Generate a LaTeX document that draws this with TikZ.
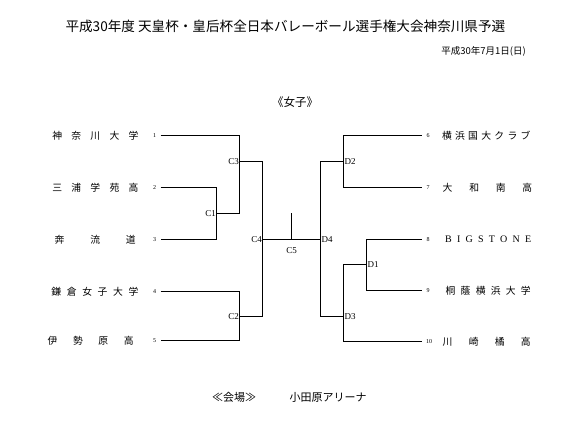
\documentclass[tikz,border=0pt]{standalone}
\usepackage{fontspec}
\setmainfont{Liberation Serif}
\newfontfamily\jp{Noto Sans CJK JP}
\tikzset{
  br/.style={line width=1.2pt, line join=miter, black},
  team/.style={inner sep=0pt, font=\jp\fontsize{9.8}{10}\selectfont},
  num/.style={inner sep=0pt, font=\fontsize{6}{7}\selectfont},
  lab/.style={inner sep=0pt, font=\fontsize{9}{10}\selectfont},
  hdr/.style={inner sep=0pt},
}
\newcommand{\spread}[2]{\makebox[#1pt][s]{#2}}
\begin{document}
\begin{tikzpicture}[x=1pt,y=-1pt]
\useasboundingbox (0,0) rectangle (585,423);
% headers
\node[hdr, font=\jp\fontsize{13.6}{15}\selectfont] (title) at (285.4,26) {平成30年度 天皇杯・皇后杯全日本バレーボール選手権大会神奈川県予選};
\node[hdr, font=\jp\fontsize{9.5}{11}\selectfont] (date) at (483.5,51.7) {平成30年7月1日(日)};
\node[hdr, font=\jp\fontsize{11.5}{13}\selectfont] (cat) at (295,101.7) {《女子》};
\node[hdr, font=\jp\fontsize{11}{13}\selectfont] (venuelab) at (234,397) {≪会場≫};
\node[hdr, font=\jp\fontsize{11}{13}\selectfont, anchor=west] (venue) at (289.5,397) {小田原アリーナ};
% left teams
\node[team, anchor=west] (t1) at (52.2,135.5) {\spread{86}{神\hfill 奈\hfill 川\hfill 大\hfill 学}};
\node[team, anchor=west] (t2) at (52.2,187.5) {\spread{86}{三\hfill 浦\hfill 学\hfill 苑\hfill 高}};
\node[team, anchor=west] (t3) at (54.5,239.5) {\spread{81}{奔\hfill 流\hfill 道}};
\node[team, anchor=west] (t4) at (51.2,291.5) {\spread{87}{鎌\hfill 倉\hfill 女\hfill 子\hfill 大\hfill 学}};
\node[team, anchor=west] (t5) at (47.5,340.5) {\spread{86}{伊\hfill 勢\hfill 原\hfill 高}};
% right teams
\node[team, anchor=west] (t6) at (441.8,135.5) {\spread{88.5}{横\hfill 浜\hfill 国\hfill 大\hfill ク\hfill ラ\hfill ブ}};
\node[team, anchor=west] (t7) at (442.5,187.5) {\spread{89.5}{大\hfill 和\hfill 南\hfill 高}};
\node[team, anchor=west, font=\fontsize{10}{11}\selectfont] (t8) at (445,239.5) {\spread{86}{B\hfill I\hfill G\hfill S\hfill T\hfill O\hfill N\hfill E}};
\node[team, anchor=west] (t9) at (445.5,290.5) {\spread{85}{桐\hfill 蔭\hfill 横\hfill 浜\hfill 大\hfill 学}};
\node[team, anchor=west] (t10) at (442.5,341.5) {\spread{88}{川\hfill 崎\hfill 橘\hfill 高}};
% numbers
\node[num] (n1) at (154.5,135.5) {1};
\node[num] (n2) at (154.5,187.5) {2};
\node[num] (n3) at (154.5,239.5) {3};
\node[num] (n4) at (154.5,291.5) {4};
\node[num] (n5) at (154.5,340.5) {5};
\node[num] (n6) at (428,135.5) {6};
\node[num] (n7) at (428,187.5) {7};
\node[num] (n8) at (428,239.5) {8};
\node[num] (n9) at (428,290.5) {9};
\node[num] (n10) at (429,341.5) {10};
% bracket coordinates
\coordinate (s1) at (160.5,135.5);
\coordinate (s2) at (160.5,187.5);
\coordinate (s3) at (160.5,239.5);
\coordinate (s4) at (160.5,291.5);
\coordinate (s5) at (160.5,340.5);
\coordinate (e6) at (421.5,135.5);
\coordinate (e7) at (421.5,187.5);
\coordinate (e8) at (421.5,239.5);
\coordinate (e9) at (421.5,290.5);
\coordinate (e10) at (421.5,341.5);
\coordinate (c1) at (216.5,213.5);
\coordinate (c3) at (239.5,161.5);
\coordinate (c2) at (239.5,316.5);
\coordinate (c4) at (262.5,239.5);
\coordinate (c5) at (291.5,239.5);
\coordinate (c5t) at (291.5,213);
\coordinate (d4) at (320.5,239.5);
\coordinate (d2) at (343.5,161.5);
\coordinate (d1) at (366.5,264.5);
\coordinate (d3) at (343.5,316.5);
% bracket lines
\draw[br] (s2) -| (c1) |- (s3);
\draw[br] (s1) -| (c3) |- (c1);
\draw[br] (s4) -| (c2) |- (s5);
\draw[br] (c3) -| (c4) |- (c2);
\draw[br] (c4) -- (d4);
\draw[br] (c5) -- (c5t);
\draw[br] (e6) -| (d2) |- (e7);
\draw[br] (e8) -| (d1) |- (e9);
\draw[br] (d1) -| (d3) |- (e10);
\draw[br] (d2) -| (d4) |- (d3);
% match labels
\node[lab, anchor=east] (lc1) at (216,213.5) {C1};
\node[lab, anchor=east] (lc3) at (239,161.5) {C3};
\node[lab, anchor=east] (lc4) at (262,239.5) {C4};
\node[lab, anchor=east] (lc2) at (239,316.5) {C2};
\node[lab] (lc5) at (291.5,251) {C5};
\node[lab, anchor=west] (ld2) at (344.3,161.5) {D2};
\node[lab, anchor=west] (ld4) at (321.3,239.5) {D4};
\node[lab, anchor=west] (ld1) at (367.3,264.5) {D1};
\node[lab, anchor=west] (ld3) at (344.3,316.5) {D3};
\end{tikzpicture}
\end{document}
